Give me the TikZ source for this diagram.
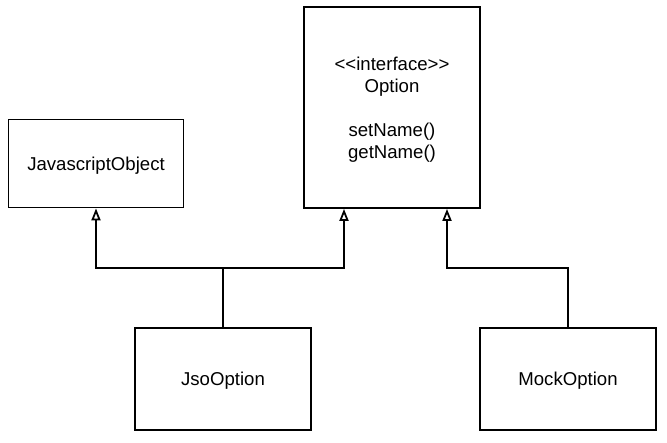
\documentclass[tikz,border=0pt]{standalone}
\usepackage{fontspec}
\setmainfont{Liberation Sans}
\usetikzlibrary{arrows.meta}
\begin{document}
\begin{tikzpicture}[x=1pt,y=-1pt,
  cls/.style={draw, line width=1.8pt, fill=white, inner sep=0pt, align=center,
    text depth=0pt, font=\fontsize{18.6}{22}\selectfont},
  conn/.style={line width=2pt},
  inh/.style={line width=2pt, -{Triangle[open, width=9pt, length=12pt, line width=1.8pt]}}]
\useasboundingbox (0,0) rectangle (667,443);
\fill[white] (0,0) rectangle (667,443);
\node[cls, minimum width=175pt, minimum height=88pt] (jsobj) at (96,163.5) {JavascriptObject};
\node[cls, minimum width=176pt, minimum height=201pt] (opt) at (392,107.5)
  {<\kern0pt<interface>\kern0pt>\\Option\\[22pt]setName()\\getName()};
\node[cls, minimum width=176pt, minimum height=102pt] (jso) at (223,379) {JsoOption};
\node[cls, minimum width=176pt, minimum height=102pt] (mock) at (568,379) {MockOption};
\coordinate (j) at (223,268);
\coordinate (m) at (568,268);
\coordinate (oa) at ([xshift=-48pt]opt.south);
\coordinate (ob) at ([xshift=55pt]opt.south);
\draw[conn] (jso.north) -- (j);
\draw[inh] (j) -| (jsobj.south);
\draw[inh] (j) -| (oa);
\draw[inh] (mock.north) -- (m) -| (ob);
\end{tikzpicture}
\end{document}
